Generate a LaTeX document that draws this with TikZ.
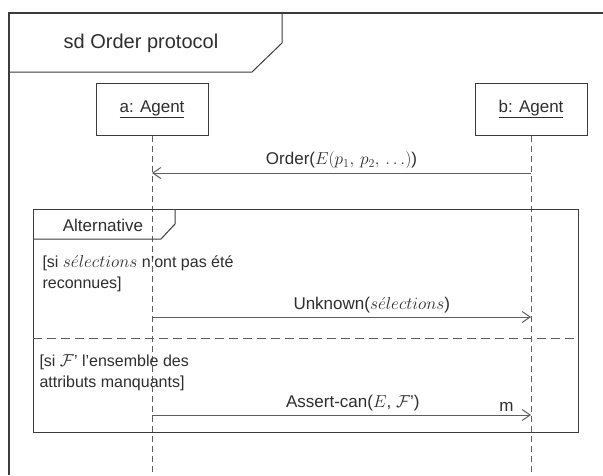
\documentclass[tikz,border=0pt]{standalone}
\usepackage{fontspec}
\setmainfont{Liberation Sans}
\usetikzlibrary{arrows.meta}
\definecolor{framegray}{HTML}{3C3C3C}
\definecolor{linegray}{HTML}{5E5E5E}
\definecolor{textgray}{HTML}{2E2E2E}

\begin{document}
\begin{tikzpicture}[x=1pt, y=-1pt,
		every node/.style = {text=textgray, font=\fontsize{17}{20}\selectfont},
		frameline/.style = {draw=framegray, line width=1.3pt},
		agent/.style = {shape=rectangle, draw=framegray, line width=1pt, minimum width=112pt, minimum height=52pt},
		lifeline/.style = {draw=linegray, line width=1pt, dash pattern=on 6pt off 4pt},
		msg/.style = {draw=linegray, line width=1pt, -{Straight Barb[length=8pt, width=11pt]}},
		separator/.style = {draw=linegray, line width=1pt, dash pattern=on 9pt off 5pt},
		guard/.style = {anchor=north west, align=left, font=\fontsize{16}{21}\selectfont}]
		\useasboundingbox[fill=white] (0,0) rectangle (603,475);
		\draw[frameline] (9,475) -- (9,13) -- (603,13);
		\draw[frameline, line width=1pt] (9,72) -- (252,72) -- (282,43) -- (282,13);
		\node[font=\fontsize{20}{24}\selectfont] (title) at (141,43) {sd Order protocol};
		\node[agent] (agentA) at (152,109) {\underline{a: Agent}};
		\node[agent] (agentB) at (531,109) {\underline{b: Agent}};
		\coordinate (aEnd) at (agentA |- 0,475);
		\coordinate (bEnd) at (agentB |- 0,475);
		\draw[lifeline] (agentA.south) -- (aEnd);
		\draw[lifeline] (agentB.south) -- (bEnd);
		\coordinate (aOrder) at (agentA |- 0,173);
		\coordinate (bOrder) at (agentB |- 0,173);
		\coordinate (aUnknown) at (agentA |- 0,317);
		\coordinate (bUnknown) at (agentB |- 0,317);
		\coordinate (aAssert) at (agentA |- 0,415);
		\coordinate (bAssert) at (agentB |- 0,415);
		\draw[msg] (bOrder) -- node[above] (orderLabel) {Order($E(p_1,\,p_2,\,\ldots)$)} (aOrder);
		\draw[frameline, line width=1pt] (33,209) rectangle (578,432);
		\draw[frameline, line width=1pt] (33,239) -- (161,239) -- (175,224) -- (175,209);
		\node (altTag) at (103,225) {Alternative};
		\node[guard] (guardOne) at (39,252) {[si $s\acute{e}lections$ n'ont pas été\\reconnues]};
		\draw[msg] (aUnknown) -- node[above, pos=0.58] (unknownLabel) {Unknown($s\acute{e}lections$)} (bUnknown);
		\draw[separator] (33,338) -- (578,338);
		\node[guard] (guardTwo) at (36,351) {[si $\mathcal{F}$' l'ensemble des\\attributs manquants]};
		\draw[msg] (aAssert) -- node[above, pos=0.53] (assertLabel) {Assert-can($E$, $\mathcal{F}$')}
			node[above, pos=0.935] (mult) {m} (bAssert);
\end{tikzpicture}
\end{document}
